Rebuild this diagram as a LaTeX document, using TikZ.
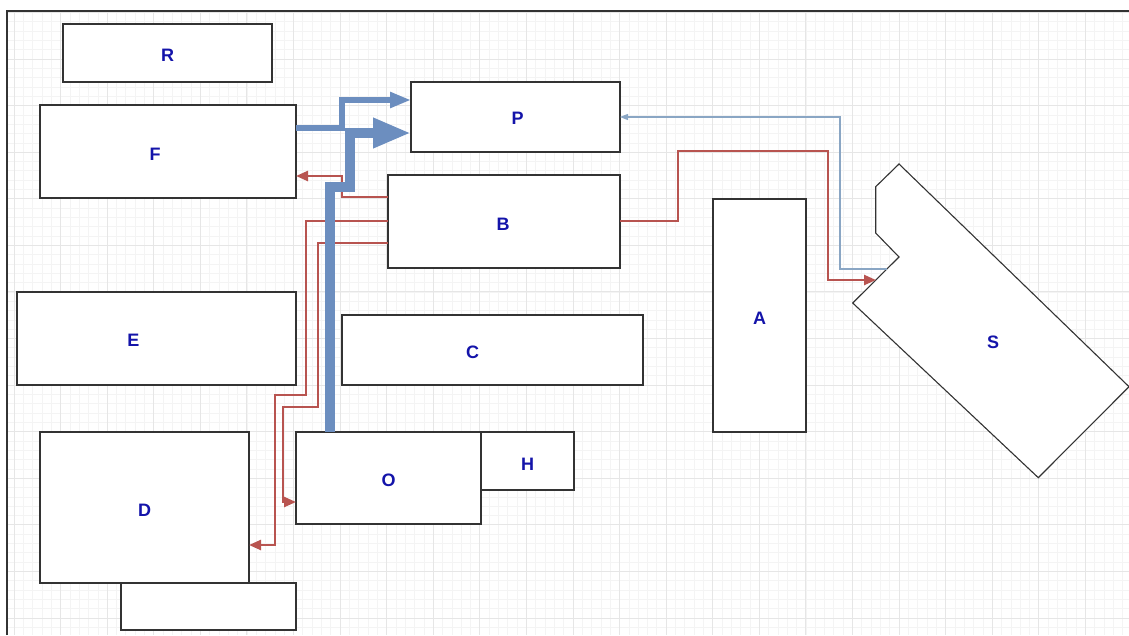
\documentclass[tikz,border=0pt]{standalone}
\usepackage{fontspec}
\setmainfont{Liberation Sans}
\usetikzlibrary{arrows.meta}
\definecolor{gminor}{HTML}{F4F4F4}
\definecolor{gmajor}{HTML}{E6E6E6}
\definecolor{edge}{HTML}{333333}
\definecolor{lblue}{HTML}{6C8EBF}
\definecolor{tblue}{HTML}{8AA6C4}
\definecolor{lred}{HTML}{B85450}
\definecolor{txt}{RGB}{20,20,170}
\tikzset{
  box/.style={draw=edge, line width=1.2pt, fill=white, inner sep=0pt, outer sep=0pt},
  lbl/.style={font=\fontsize{18}{21}\selectfont\bfseries, text=txt, inner sep=0pt},
  redcon/.style={draw=lred, line width=2.4pt, -{Triangle[length=12pt,width=10pt]}},
  thickblue/.style={draw=lblue, line width=6pt, -{Triangle[length=21pt,width=15pt]}},
  fatblue/.style={draw=lblue, line width=10pt, -{Triangle[length=38pt,width=28pt]}},
  thinblue/.style={draw=tblue, line width=1.2pt, -{Triangle[length=8pt,width=6pt]}},
}
\begin{document}
\begin{tikzpicture}[x=1pt,y=-1pt]
\useasboundingbox (0,0) rectangle (1129,635);
% grid
\begin{scope}
\clip (7,11) rectangle (1129,635);
\foreach \k in {0,...,120} {\draw[gminor, line width=0.6pt] ({4.66+\k*9.316},11) -- ({4.66+\k*9.316},635);}
\foreach \k in {0,...,67} {\draw[gminor, line width=0.6pt] (7,{3.08+\k*9.316}) -- (1129,{3.08+\k*9.316});}
\foreach \k in {0,...,24} {\draw[gmajor, line width=0.8pt] ({13.98+\k*46.58},11) -- ({13.98+\k*46.58},635);}
\foreach \k in {0,...,13} {\draw[gmajor, line width=0.8pt] (7,{12.4+\k*46.58}) -- (1129,{12.4+\k*46.58});}
\end{scope}
\draw[edge, line width=1.5pt] (7,635) -- (7,11) -- (1129,11);

% boxes
\node[box, minimum width=209pt, minimum height=58pt, label={[lbl, yshift=-2pt]center:R}] (R) at (167.5,53) {};
\node[box, minimum width=256pt, minimum height=93pt, label={[lbl, xshift=-13pt, yshift=-3pt]center:F}] (F) at (168,151.5) {};
\node[box, minimum width=209pt, minimum height=70pt, label={[lbl, xshift=2pt, yshift=-1pt]center:P}] (P) at (515.5,117) {};
\node[box, minimum width=232pt, minimum height=93pt, label={[lbl, xshift=-1pt, yshift=-2.5pt]center:B}] (B) at (504,221.5) {};
\node[box, minimum width=279pt, minimum height=93pt, label={[lbl, xshift=-23pt, yshift=-2pt]center:E}] (E) at (156.5,338.5) {};
\node[box, minimum width=301pt, minimum height=70pt, label={[lbl, xshift=-20pt, yshift=-2pt]center:C}] (C) at (492.5,350) {};
\node[box, minimum width=93pt, minimum height=233pt, label={[lbl, yshift=-2.5pt]center:A}] (A) at (759.5,315.5) {};
\node[box, minimum width=209pt, minimum height=151pt, label={[lbl, yshift=-2.5pt]center:D}] (D) at (144.5,507.5) {};
\node[box, minimum width=175pt, minimum height=47pt] (X) at (208.5,606.5) {};
\node[box, minimum width=185pt, minimum height=92pt, label={[lbl, yshift=-2pt]center:O}] (O) at (388.5,478) {};
\node[box, minimum width=93pt, minimum height=58pt, label={[lbl, yshift=-3pt]center:H}] (H) at (527.5,461) {};

% S shape
\draw[edge, line width=1.1pt, fill=white] (899,164) -- (875.7,186.7) -- (875.7,233) -- (899,257)
  -- (852.7,303) -- (1038.3,477.7) -- (1129,386.7) -- cycle;
\node[lbl] (S) at (993,342) {S};
\coordinate (Sa) at (876,280);
\coordinate (Sb) at (887,269);

% red connectors
\draw[redcon] (B.east |- 0,221) -- (678,221) -- (678,151) -- (828,151) -- (828,280) -- (Sa);
\draw[redcon] (B.west |- 0,197) -- (342,197) -- (342,176) -- (F.east |- 0,176);
\draw[redcon] (B.west |- 0,221) -- (306,221) -- (306,395) -- (275,395) -- (275,545) -- (D.east |- 0,545);
\draw[redcon] (B.west |- 0,243) -- (318,243) -- (318,407) -- (283,407) -- (283,502) -- (O.west |- 0,502);

% blue connectors
\draw[thinblue] (Sb) -- (840,269) -- (840,117) -- (P.east |- 0,117);
\draw[thickblue] (F.east |- 0,128) -- (342,128) -- (342,100) -- (P.west |- 0,100);
\draw[fatblue] (O.north -| 330,0) -- (330,187) -- (350,187) -- (350,133) -- (P.west |- 0,133);
\end{tikzpicture}
\end{document}
